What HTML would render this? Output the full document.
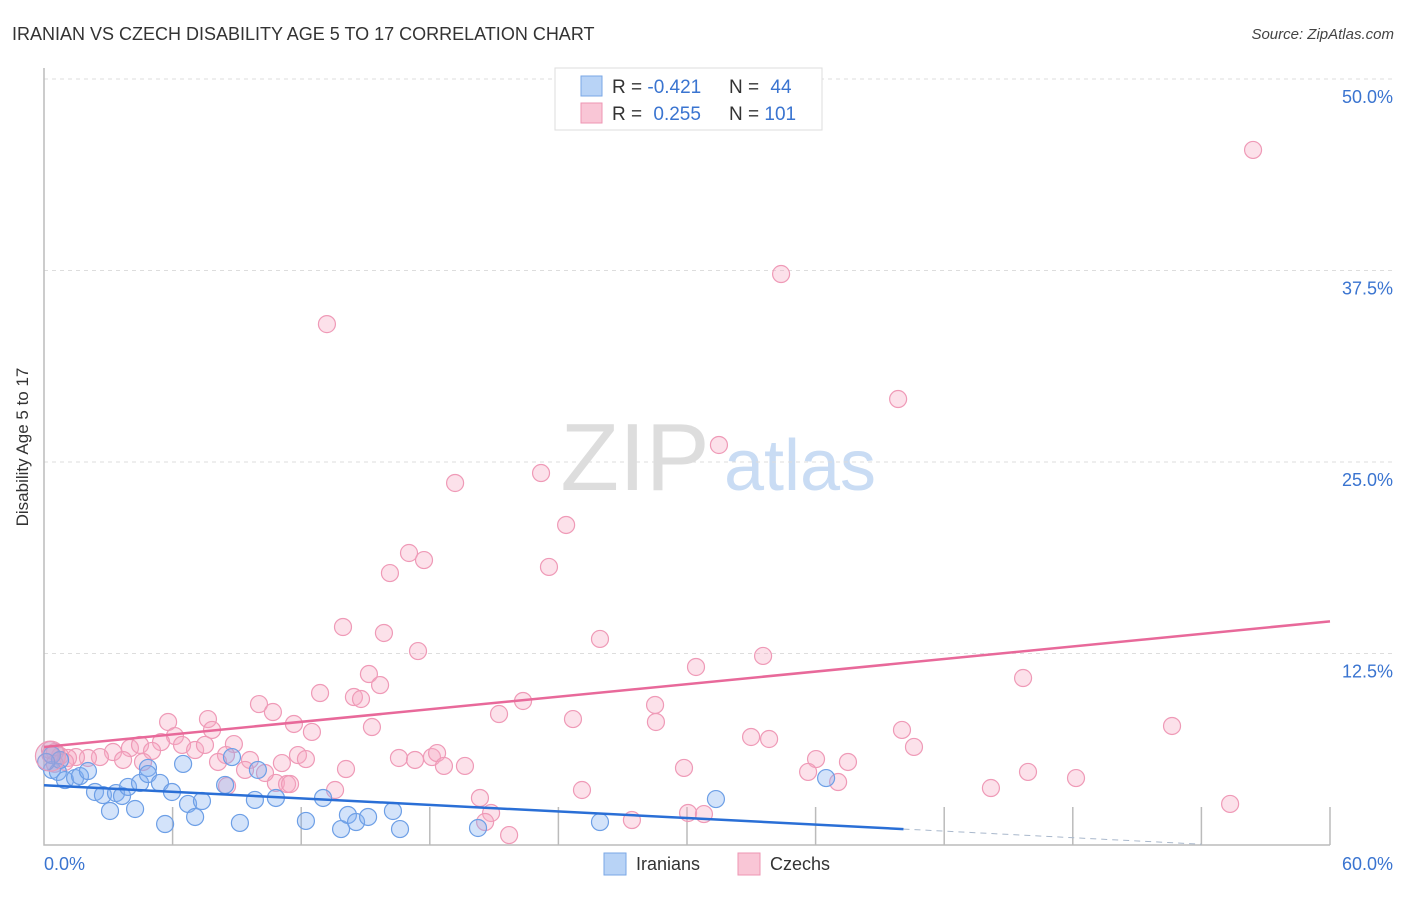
<!DOCTYPE html>
<html><head><meta charset="utf-8"><style>
body{margin:0;background:#fff;font-family:"Liberation Sans",sans-serif}
svg text{font-family:"Liberation Sans",sans-serif}
</style></head><body>
<svg id="chart" width="1406" height="892" viewBox="0 0 1406 892">
<text x="12" y="40" font-size="18" fill="#333">IRANIAN VS CZECH DISABILITY AGE 5 TO 17 CORRELATION CHART</text>
<text x="1394" y="39" font-size="15" fill="#444" text-anchor="end" font-style="italic">Source: ZipAtlas.com</text>
<text x="36" y="455" font-size="17" fill="#333" text-anchor="middle" transform="rotate(-90 28 455)">Disability Age 5 to 17</text>
<g>
<text x="635" y="490" font-size="96" fill="#ddd" text-anchor="middle" font-family="Liberation Serif,serif">ZIP</text>
<text x="800" y="490" font-size="72" fill="#c9dcf4" text-anchor="middle">atlas</text>
</g>
<g id="grid"></g>
<g id="axes"></g>
<g id="pts"></g>
<g id="lines"></g>
<g>
<rect x="555" y="68" width="267" height="62" fill="#fff" stroke="#ddd"/>
<rect x="581" y="76" width="21" height="20" fill="#b8d3f6" stroke="#7aa7e6"/>
<rect x="581" y="103" width="21" height="20" fill="#f9c6d6" stroke="#ee95b3"/>
<text x="612" y="93" font-size="19" fill="#333">R = <tspan fill="#3a74d0">-0.421</tspan></text>
<text x="729" y="93" font-size="19" fill="#333">N = <tspan fill="#3a74d0" dx="6">44</tspan></text>
<text x="612" y="120" font-size="19" fill="#333">R = <tspan fill="#3a74d0" dx="6">0.255</tspan></text>
<text x="729" y="120" font-size="19" fill="#333">N = <tspan fill="#3a74d0">101</tspan></text>
</g>
<g>
<rect x="604" y="853" width="22" height="22" fill="#b8d3f6" stroke="#7aa7e6"/>
<text x="636" y="870" font-size="18" fill="#333">Iranians</text>
<rect x="738" y="853" width="22" height="22" fill="#f9c6d6" stroke="#ee95b3"/>
<text x="770" y="870" font-size="18" fill="#333">Czechs</text>
</g>
</svg>
<script>
const yTicks=[12.5,25,37.5,50];
const yTickLabels=["12.5%","25.0%","37.5%","50.0%"];
const xTickLabels=["0.0%","60.0%"];
const iranX=[0.37,0.65,0.98,1.45,1.68,2.05,2.38,2.75,3.08,3.36,3.64,3.92,4.25,4.48,4.85,4.85,5.41,5.65,5.97,6.49,6.72,7.05,7.37,8.45,8.77,9.14,9.84,9.98,10.82,12.22,13.02,13.86,14.18,14.56,15.12,16.28,16.61,20.25,25.94,31.35,36.49,0.37,0.75,0.1];
const iranY=[4.9,4.77,4.24,4.37,4.5,4.83,3.46,3.26,2.22,3.39,3.2,3.79,2.35,4.05,5.03,4.63,4.05,1.37,3.46,5.29,2.68,1.83,2.87,3.92,5.74,1.44,2.94,4.9,3.07,1.57,3.07,1.04,1.96,1.5,1.83,2.22,1.04,1.11,1.5,3.0,4.37,5.87,5.55,5.42];
const czX=[56.41,34.39,13.2,39.85,31.49,19.18,23.19,24.36,17.03,17.73,16.14,23.56,13.95,15.86,25.94,17.45,30.42,33.55,15.16,15.68,12.88,14.46,14.79,22.35,28.51,45.68,10.03,10.68,21.23,5.79,7.65,11.66,24.68,28.55,15.3,7.84,12.5,52.63,40.03,6.11,8.86,32.99,33.83,40.59,5.46,6.44,7.05,8.49,7.51,4.01,4.48,5.04,3.22,2.61,2.05,1.49,1.12,0.75,0.51,0.28,0.98,9.61,11.1,11.85,12.22,16.56,17.31,18.1,18.34,18.66,19.64,36.02,37.51,35.65,14.09,10.82,8.54,11.34,10.31,29.86,37.05,45.91,48.15,44.18,25.1,13.58,20.34,55.34,27.43,30.05,30.79,20.86,20.58,21.7,9.38,8.12,4.62,3.69,11.48,0.3,0.5];
const czY=[45.37,37.27,34.0,29.11,26.11,23.63,24.28,20.89,19.06,18.6,17.75,18.15,14.23,13.84,13.45,12.66,11.62,12.34,11.16,10.44,9.92,9.66,9.53,9.4,9.14,10.9,9.2,8.68,8.55,8.03,8.22,7.9,8.22,8.03,7.7,7.51,7.38,7.77,7.51,7.11,6.59,7.05,6.92,6.4,6.72,6.53,6.2,5.87,6.53,6.33,6.53,6.14,6.07,5.74,5.68,5.74,5.68,5.81,6.07,6.2,5.42,5.55,5.35,5.87,5.61,5.68,5.55,5.74,6.0,5.16,5.16,5.61,5.42,4.77,4.96,4.05,3.85,3.98,4.7,5.03,4.11,4.77,4.37,3.72,3.59,3.59,3.07,2.68,1.63,2.09,2.02,2.09,1.5,0.65,4.9,5.42,5.42,5.55,3.98,5.9,5.3];
const iranLine=[[0,3.9],[40.1,1.04]];
const iranDash=[[40.1,1.04],[54,0.05]];
const czLine=[[0,6.4],[60,14.6]];
const X0=44,X1=1330,Y0=845,Y50=79;
const sx=v=>X0+v/60*(X1-X0);
const sy=v=>Y0-v/50*(Y0-Y50);
const NS="http://www.w3.org/2000/svg";
function mk(t,a,p){const e=document.createElementNS(NS,t);for(const k in a)e.setAttribute(k,a[k]);p.appendChild(e);return e;}
const grid=document.getElementById('grid'),axes=document.getElementById('axes'),pts=document.getElementById('pts'),lines=document.getElementById('lines');
yTicks.forEach((t,i)=>{
 const l=mk('line',{x1:X0,x2:1394,y1:sy(t),y2:sy(t),stroke:'#ddd','stroke-dasharray':'4 4'},grid);
 
 
 const tx=mk('text',{x:1393,y:sy(t)+24,'font-size':18,fill:'#3a74d0','text-anchor':'end'},axes);
 tx.textContent=yTickLabels[i];
 
 
});
const ax=mk('path',{d:`M${X0} 68V${Y0}H${X1}`,stroke:'#bbb',fill:'none','stroke-width':1.5},axes);


for(let i=1;i<=10;i++){const x=sx(i*6);const t=mk('line',{x1:x,x2:x,y1:Y0,y2:Y0-38,stroke:'#bbb','stroke-width':1.5},axes);
 
 }
const xl0=mk('text',{x:44,y:870,'font-size':18,fill:'#3a74d0'},axes);xl0.textContent=xTickLabels[0];


const xl1=mk('text',{x:1393,y:870,'font-size':18,fill:'#3a74d0','text-anchor':'end'},axes);xl1.textContent=xTickLabels[1];


czX.forEach((x,i)=>{const c=mk('circle',{cx:sx(x),cy:sy(czY[i]),r:8.5,fill:'rgba(246,170,196,0.35)',stroke:'#ef9ab7','stroke-width':1.2},pts);
 
 });
iranX.forEach((x,i)=>{const c=mk('circle',{cx:sx(x),cy:sy(iranY[i]),r:8.5,fill:'rgba(130,175,240,0.35)',stroke:'#6d9fe6','stroke-width':1.2},pts);
 
 });
const big=mk('circle',{cx:sx(0.3),cy:sy(5.8),r:15,fill:'rgba(200,160,200,0.35)',stroke:'#ee9ab7','stroke-width':1.2},pts);


const pl=(d,col,dash,name)=>{const l=mk('line',{x1:sx(d[0][0]),y1:sy(d[0][1]),x2:sx(d[1][0]),y2:sy(d[1][1]),stroke:col,'stroke-width':dash?1:2.5,'stroke-dasharray':dash?'6 5':'none'},lines);
 
 };
pl(czLine,'#e8699a',false,'czech-trend-line');
pl(iranLine,'#2a6fd6',false,'iranian-trend-line');
pl(iranDash,'#a9b8cc',true,'iranian-trend-extension');
</script>
</body></html>
